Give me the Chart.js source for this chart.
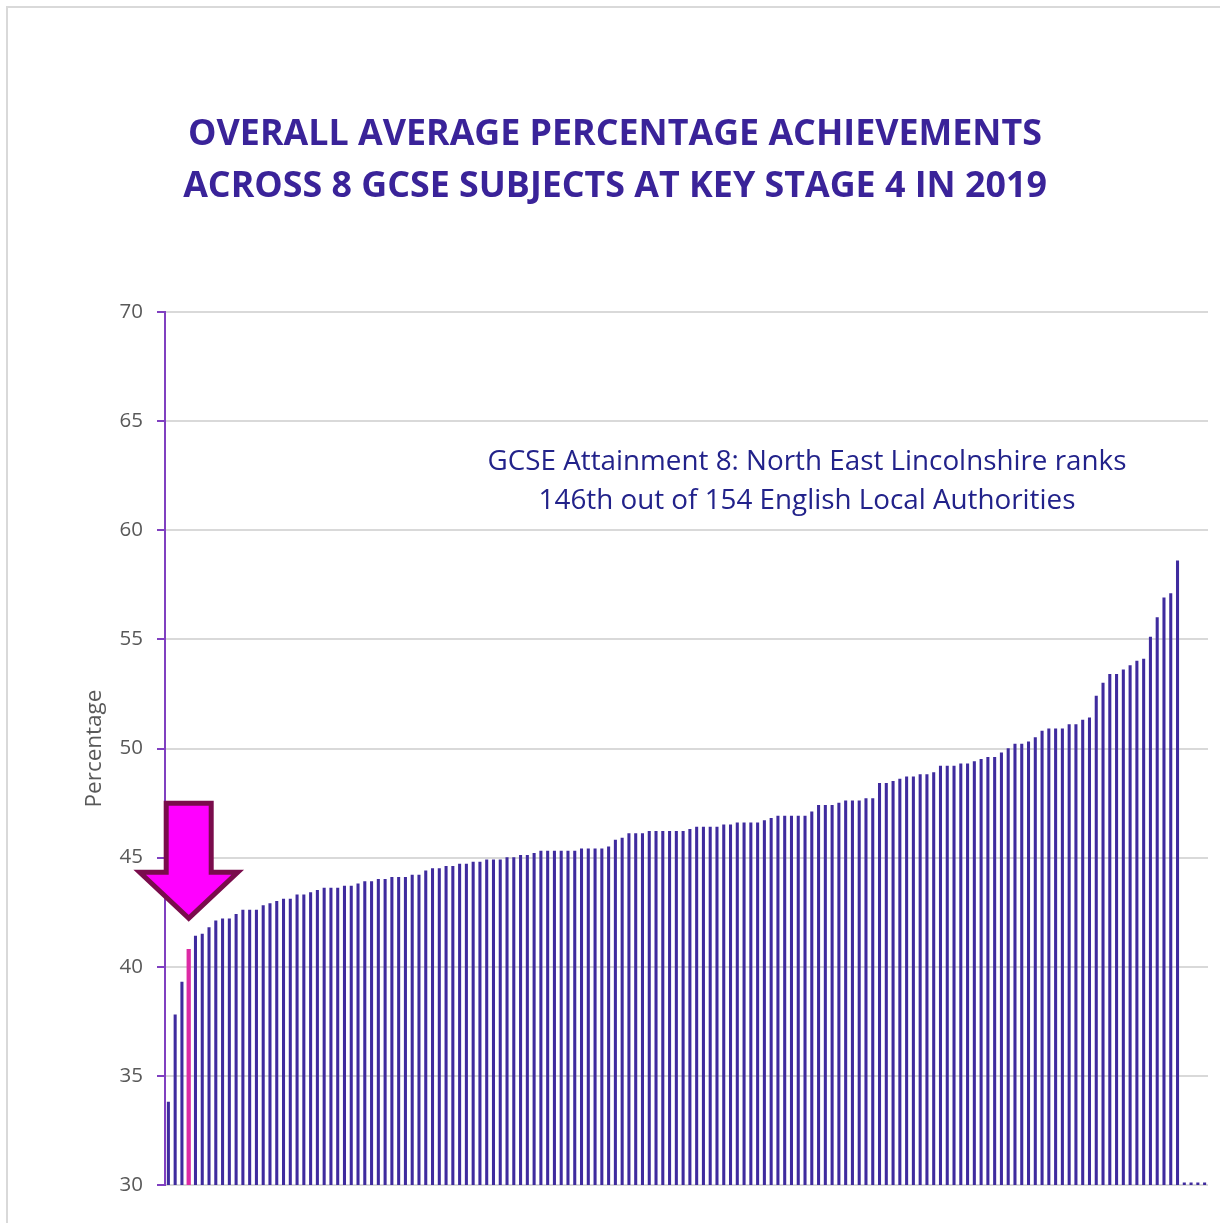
<!DOCTYPE html>
<html>
<head>
    <title>GCSE Attainment 8 - 2019</title>
    <meta charset="UTF-8">
    <script src="https://cdn.jsdelivr.net/npm/chart.js@4.4.1/dist/chart.umd.min.js"></script>
    <style>
        body { margin: 0; background: #fff; }
        .wrap { position: relative; width: 1220px; height: 1223px; overflow: hidden; }
        .frame { position: absolute; left: 6px; top: 6px; width: 1240px; height: 1240px; border: 2px solid #d9d9d9; box-sizing: border-box; }
        .title { position: absolute; left: 0; top: 105px; width: 1230px; text-align: center;
                 font-family: 'Open Sans', sans-serif; font-weight: 700; font-size: 35.8px; line-height: 52px; color: #3a2399; }
        .note { position: absolute; left: 407px; top: 440px; width: 800px; text-align: center;
                font-family: 'Open Sans', sans-serif; font-size: 27.8px; line-height: 39px; color: #22228a; }
        #chart { position: absolute; left: 0; top: 0; }
    </style>
</head>
<body>
<div class="wrap">
    <div class="frame"></div>
    <canvas id="chart" width="1220" height="1223"></canvas>
    <div class="title">OVERALL AVERAGE PERCENTAGE ACHIEVEMENTS<br>ACROSS 8 GCSE SUBJECTS AT KEY STAGE 4 IN 2019</div>
    <div class="note">GCSE Attainment 8: North East Lincolnshire ranks<br>146th out of 154 English Local Authorities</div>
</div>
<script>
    // Attainment 8 scores, lowest to highest (last four authorities have no score shown)
    const values = [
        33.8, 37.8, 39.3, 40.8, 41.4, 41.5, 41.8, 42.1, 42.2, 42.2,
        42.4, 42.6, 42.6, 42.6, 42.8, 42.9, 43.0, 43.1, 43.1, 43.3,
        43.3, 43.4, 43.5, 43.6, 43.6, 43.6, 43.7, 43.7, 43.8, 43.9,
        43.9, 44.0, 44.0, 44.1, 44.1, 44.1, 44.2, 44.2, 44.4, 44.5,
        44.5, 44.6, 44.6, 44.7, 44.7, 44.8, 44.8, 44.9, 44.9, 44.9,
        45.0, 45.0, 45.1, 45.1, 45.2, 45.3, 45.3, 45.3, 45.3, 45.3,
        45.3, 45.4, 45.4, 45.4, 45.4, 45.5, 45.8, 45.9, 46.1, 46.1,
        46.1, 46.2, 46.2, 46.2, 46.2, 46.2, 46.2, 46.3, 46.4, 46.4,
        46.4, 46.4, 46.5, 46.5, 46.6, 46.6, 46.6, 46.6, 46.7, 46.8,
        46.9, 46.9, 46.9, 46.9, 46.9, 47.1, 47.4, 47.4, 47.4, 47.5,
        47.6, 47.6, 47.6, 47.7, 47.7, 48.4, 48.4, 48.5, 48.6, 48.7,
        48.7, 48.8, 48.8, 48.9, 49.2, 49.2, 49.2, 49.3, 49.3, 49.4,
        49.5, 49.6, 49.6, 49.8, 50.0, 50.2, 50.2, 50.3, 50.5, 50.8,
        50.9, 50.9, 50.9, 51.1, 51.1, 51.3, 51.4, 52.4, 53.0, 53.4,
        53.4, 53.6, 53.8, 54.0, 54.1, 55.1, 56.0, 56.9, 57.1, 58.6,
        30.1, 30.1, 30.1, 30.1
    ];
    const labels = values.map((v, i) => 'LA ' + (i + 1));
    const highlightIndex = 3; // North East Lincolnshire
    const yTicks = [30, 35, 40, 45, 50, 55, 60, 65, 70];

    const barColor = '#3f2b9e';
    const pinkColor = '#dc2aa5';

    // magenta arrow pointing at the highlighted bar
    const arrowPlugin = {
        id: 'arrow',
        afterDatasetsDraw(chart) {
            const { ctx, scales: { x, y } } = chart;
            const tx = x.getPixelForValue(highlightIndex);
            const ty = y.getPixelForValue(values[highlightIndex]) - 31;
            const shaftW = 22.5, headW = 49, headH = 46, totalH = 115;
            ctx.save();
            ctx.beginPath();
            ctx.moveTo(tx, ty);
            ctx.lineTo(tx - headW, ty - headH);
            ctx.lineTo(tx - shaftW, ty - headH);
            ctx.lineTo(tx - shaftW, ty - totalH);
            ctx.lineTo(tx + shaftW, ty - totalH);
            ctx.lineTo(tx + shaftW, ty - headH);
            ctx.lineTo(tx + headW, ty - headH);
            ctx.closePath();
            ctx.fillStyle = '#ff00ff';
            ctx.fill();
            ctx.lineWidth = 5;
            ctx.lineJoin = 'miter';
            ctx.strokeStyle = '#7a0c4c';
            ctx.stroke();
            ctx.restore();
        }
    };

    new Chart(document.getElementById('chart'), {
        type: 'bar',
        data: {
            labels: labels,
            datasets: [{
                data: values.map((v, i) => i === highlightIndex ? null : v),
                backgroundColor: barColor,
                barThickness: 2.4,
                grouped: false
            }, {
                data: values.map((v, i) => i === highlightIndex ? v : null),
                backgroundColor: pinkColor,
                barThickness: 3.6,
                grouped: false
            }]
        },
        options: {
            responsive: false,
            animation: false,
            layout: { padding: { left: 0, top: 312, right: 12, bottom: 38 } },
            plugins: {
                legend: { display: false },
                tooltip: { enabled: false }
            },
            scales: {
                x: { display: false },
                y: {
                    min: 30,
                    max: 70,
                    afterBuildTicks: (s) => { s.ticks = yTicks.map(v => ({ value: v })); },
                    afterFit: (s) => { s.width = 165; },
                    grid: { color: '#d9d9d9', lineWidth: 2, tickColor: '#8040c0', tickLength: 8, tickWidth: 2 },
                    border: { color: '#8040c0', width: 2 },
                    ticks: {
                        color: '#595959',
                        padding: 14,
                        font: { family: "'Open Sans'", size: 20.5 }
                    },
                    title: {
                        display: true,
                        text: 'Percentage',
                        color: '#595959',
                        padding: { top: 81 },
                        font: { family: "'Open Sans'", size: 22.5 }
                    }
                }
            }
        },
        plugins: [arrowPlugin]
    });
</script>
</body>
</html>
